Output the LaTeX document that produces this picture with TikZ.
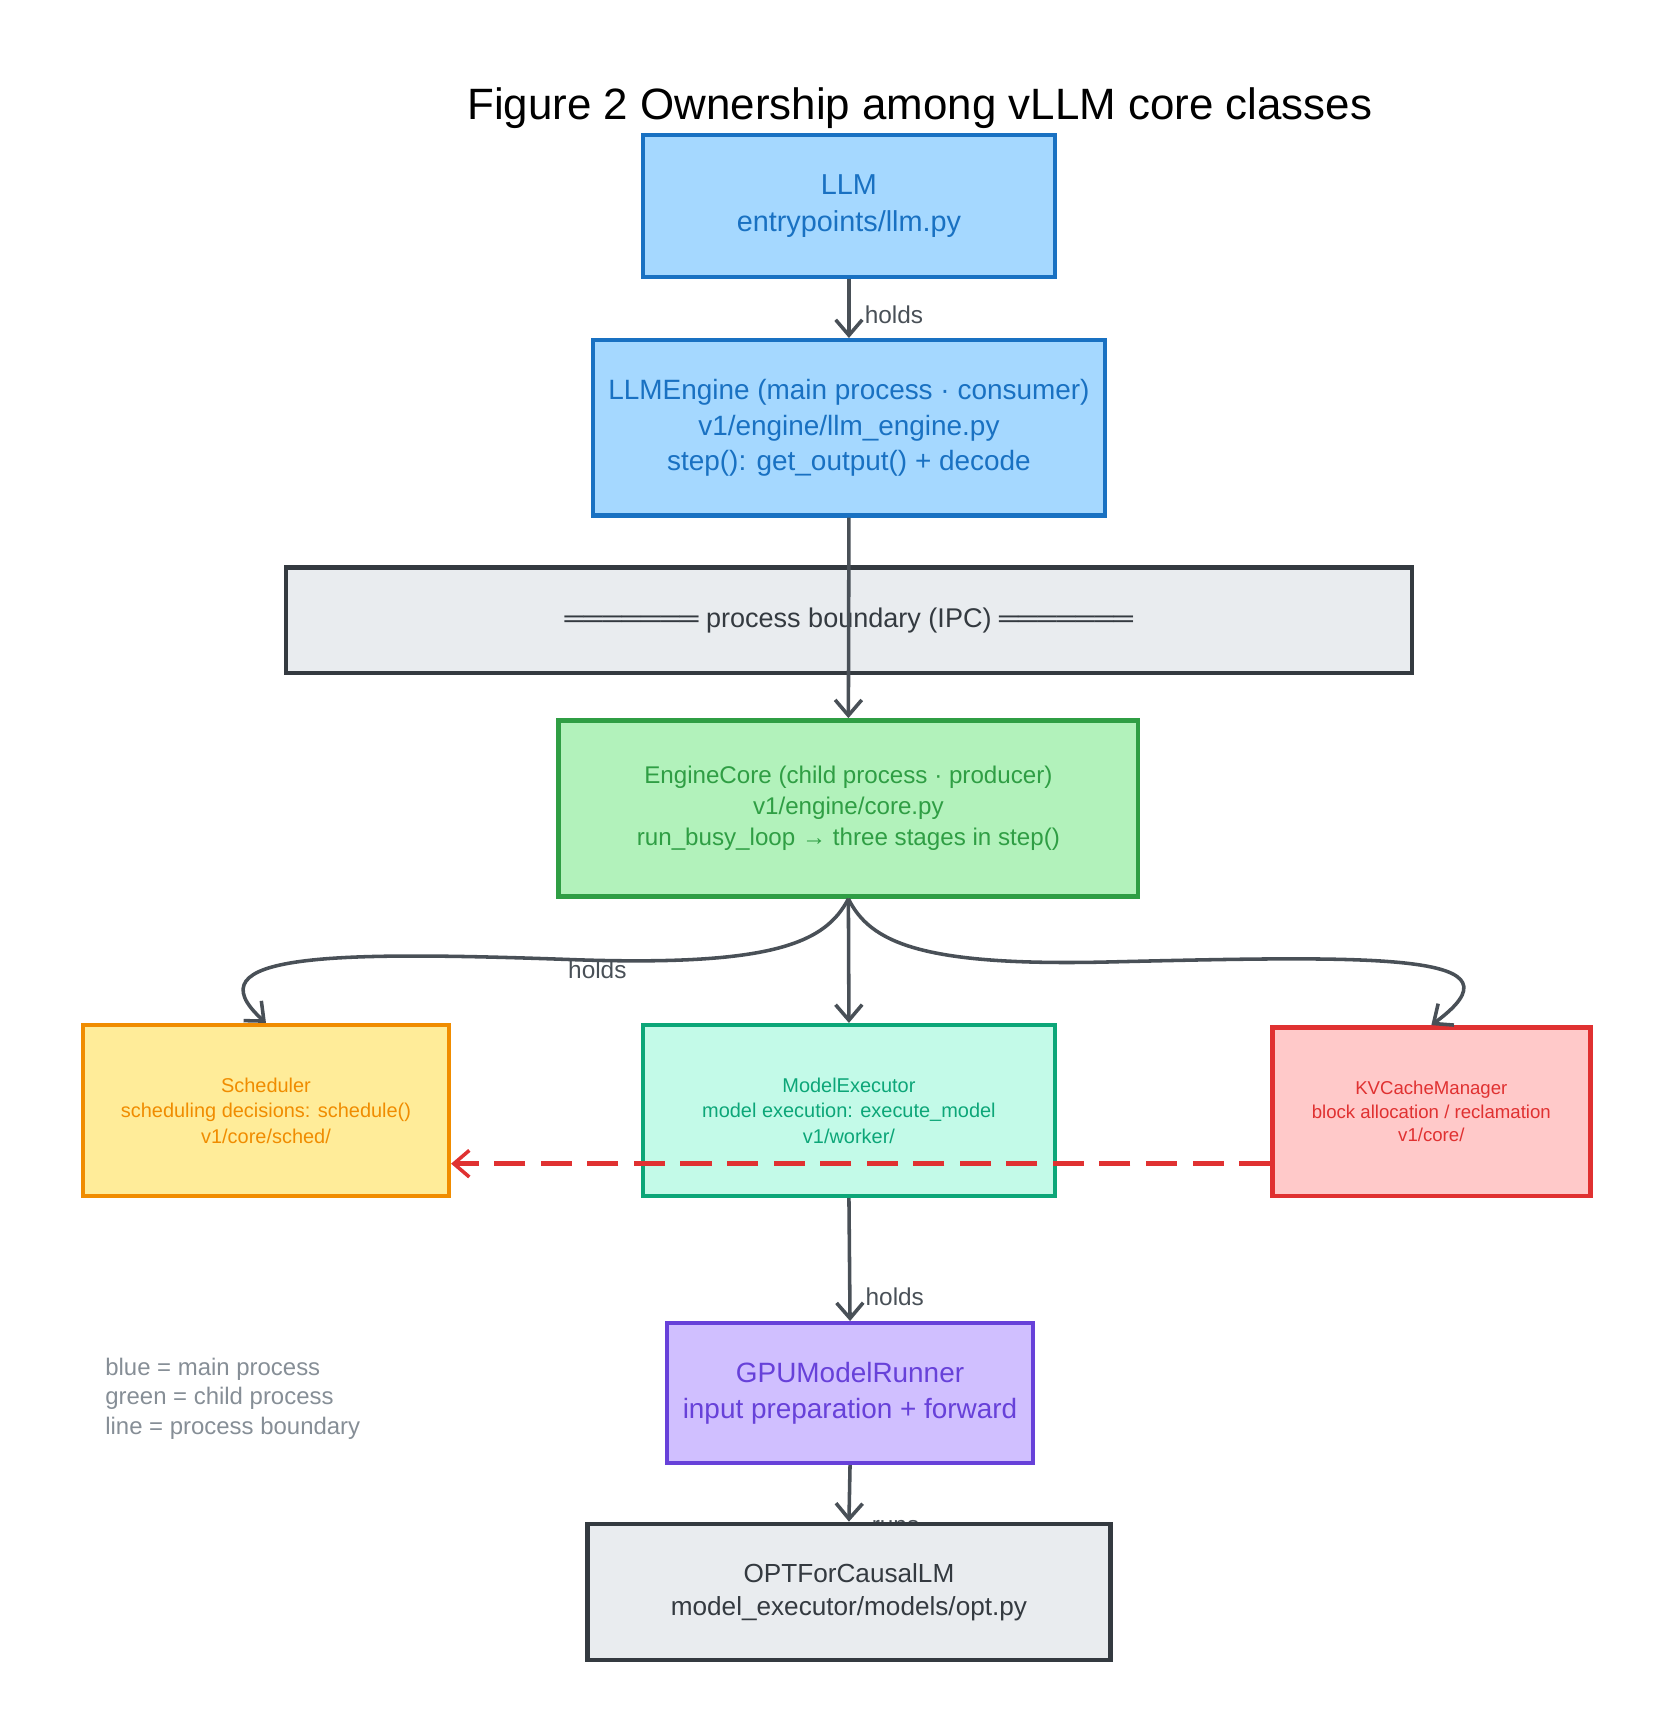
\documentclass[tikz,border=0pt]{standalone}
\usepackage{fontspec}
\setmainfont{Liberation Sans}
\usetikzlibrary{arrows.meta}
\definecolor{bfill}{HTML}{A5D8FF}\definecolor{bline}{HTML}{1971C2}
\definecolor{gfill}{HTML}{B2F2BB}\definecolor{gline}{HTML}{2F9E44}
\definecolor{yfill}{HTML}{FFEC99}\definecolor{yline}{HTML}{F08C00}
\definecolor{tfill}{HTML}{C3FAE8}\definecolor{tline}{HTML}{0CA678}
\definecolor{rfill}{HTML}{FFC9C9}\definecolor{rline}{HTML}{E03131}
\definecolor{pfill}{HTML}{D0BFFF}\definecolor{pline}{HTML}{6741D9}
\definecolor{grfill}{HTML}{E9ECEF}\definecolor{grline}{HTML}{343A40}
\definecolor{arr}{HTML}{495057}\definecolor{leg}{HTML}{868E96}
\begin{document}
\begin{tikzpicture}[x=0.5pt,y=-0.5pt,
  box/.style={draw, line width=2pt, align=center, inner sep=0pt, anchor=north west},
  conn/.style={draw=arr, line width=1.6pt, -{Straight Barb[length=7pt,width=12pt,line width=1.6pt]}},
  lbl/.style={text=arr, font=\fontsize{11}{13}\selectfont}]
\useasboundingbox (0,0) rectangle (1500,1561);
\node (title) at (830,98) {\fontsize{19.8}{22}\selectfont Figure 2 Ownership among vLLM core classes};
\node[box, fill=bfill, draw=bline, text=bline, minimum width=186pt, minimum height=64pt, font=\fontsize{13}{17}\selectfont] (llm) at (578,120) {LLM\\entrypoints/llm.py};
\node[box, fill=bfill, draw=bline, text=bline, minimum width=231pt, minimum height=79pt, font=\fontsize{12.6}{16}\selectfont] (eng) at (533,305) {LLMEngine (main process · consumer)\\v1/engine/llm\_engine.py\\step(): get\_output() + decode};
\node[box, fill=grfill, draw=grline, text=grline, minimum width=508pt, minimum height=47.5pt, font=\fontsize{12.2}{13}\selectfont] (ipc) at (256,510) {═══════ process boundary (IPC) ═══════};
\node[box, fill=gfill, draw=gline, text=gline, minimum width=261.5pt, minimum height=79.5pt, font=\fontsize{10.9}{14}\selectfont] (core) at (502,648) {EngineCore (child process · producer)\\v1/engine/core.py\\run\_busy\_loop → three stages in step()};
\node[box, fill=yfill, draw=yline, text=yline, minimum width=165pt, minimum height=77pt, font=\fontsize{9}{11.5}\selectfont] (sch) at (73,923) {Scheduler\\scheduling decisions: schedule()\\v1/core/sched/};
\node[box, fill=tfill, draw=tline, text=tline, minimum width=186pt, minimum height=77pt, font=\fontsize{9}{11.5}\selectfont] (mex) at (578,923) {ModelExecutor\\model execution: execute\_model\\v1/worker/};
\node[box, fill=rfill, draw=rline, text=rline, minimum width=143.5pt, minimum height=76pt, font=\fontsize{8.4}{10.5}\selectfont] (kv) at (1146,925) {KVCacheManager\\block allocation / reclamation\\v1/core/};
\node[box, fill=pfill, draw=pline, text=pline, minimum width=165pt, minimum height=63pt, font=\fontsize{12.6}{16}\selectfont] (gpu) at (600,1192) {GPUModelRunner\\input preparation + forward};
\node[lbl] (runs) at (808,1378) {runs};
\node[box, fill=grfill, draw=grline, text=grline, minimum width=236pt, minimum height=61.5pt, font=\fontsize{11.8}{15}\selectfont] (opt) at (528,1373) {OPTForCausalLM\\model\_executor/models/opt.py};
\node[anchor=north west, align=left, text=leg, font=\fontsize{10.8}{13.5}\selectfont] (legend) at (88,1218) {blue = main process\\green = child process\\line = process boundary};

\draw[conn] (llm.south) -- (eng.north) node[lbl, pos=0.6, right=3pt] {holds};
\draw[conn] (eng.south) -- (core.north);
\draw[conn] (core.south) -- (mex.north);
\draw[conn] (core.south) .. controls (745,850) and (700,872) .. (520,866) .. controls (300,858) and (170,860) .. (sch.north);
\draw[conn] (core.south) .. controls (785,850) and (830,872) .. (1000,868) .. controls (1250,862) and (1380,860) .. (kv.north);
\node[lbl] (h2) at (539,875) {holds};
\draw[conn] (mex.south) -- (gpu.north) node[lbl, pos=0.8, right=3pt] {holds};
\draw[conn] (gpu.south) -- (opt.north);
\draw[draw=rline, line width=2.2pt, dash pattern=on 14pt off 7pt, -{Straight Barb[length=7pt,width=12pt,line width=1.6pt]}] (kv.west |- 0,1050) coordinate (k1) -- (sch.east |- 0,1050);
\end{tikzpicture}
\end{document}
